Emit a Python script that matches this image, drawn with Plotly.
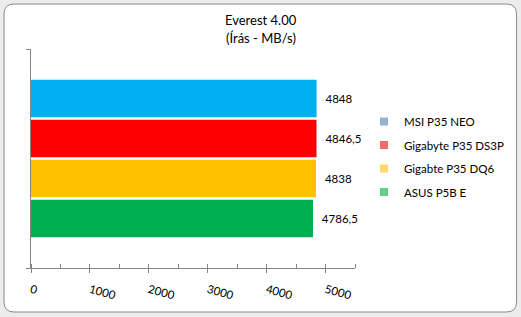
import plotly.graph_objects as go

category = ["Everest 4.00"]
series_names = ["MSI P35 NEO", "Gigabyte P35 DS3P", "Gigabte P35 DQ6", "ASUS P5B E"]
series_values = [4848, 4846.5, 4838, 4786.5]
bar_colors = ["#00b0f0", "#ff0000", "#ffc000", "#00b050"]
legend_colors = ["#95b3d7", "#f46b6b", "#ffd966", "#5fcf8a"]
x_ticks = [0, 1000, 2000, 3000, 4000, 5000]
title_lines = ["Everest 4.00", "(Írás - MB/s)"]

W, H = 521, 317
L, R, T, B = 31, 355, 49, 268

def fmt(v):
    s = ("%g" % v)
    return s.replace(".", ",")

fig = go.Figure()
for name, val, col in zip(series_names, series_values, bar_colors):
    fig.add_trace(go.Bar(
        y=category, x=[val], orientation="h", name=name,
        marker=dict(color=col, line=dict(width=0)),
        text=[fmt(val)], texttemplate="  %{text}", textposition="outside",
        textfont=dict(family="Lato", size=11.5, color="#000000"),
        cliponaxis=False, showlegend=False, hoverinfo="skip",
    ))
for i, (name, col) in enumerate(zip(series_names, legend_colors)):
    fig.add_trace(go.Scatter(
        x=[None], y=[None], mode="markers", name=name,
        marker=dict(symbol="square", size=8, color=col),
        legendgroup="g%d" % i, showlegend=True,
    ))

def px_x(p):
    return (p - L) / (R - L)

def px_y(p):
    return (B - p) / (B - T)

# rounded white chart-area rectangle
x0, x1, y0, y1, r = 4, 516.5, 4, 312, 10
path = (
    f"M {px_x(x0 + r)} {px_y(y0)} L {px_x(x1 - r)} {px_y(y0)} "
    f"Q {px_x(x1)} {px_y(y0)} {px_x(x1)} {px_y(y0 + r)} "
    f"L {px_x(x1)} {px_y(y1 - r)} Q {px_x(x1)} {px_y(y1)} {px_x(x1 - r)} {px_y(y1)} "
    f"L {px_x(x0 + r)} {px_y(y1)} Q {px_x(x0)} {px_y(y1)} {px_x(x0)} {px_y(y1 - r)} "
    f"L {px_x(x0)} {px_y(y0 + r)} Q {px_x(x0)} {px_y(y0)} {px_x(x0 + r)} {px_y(y0)} Z"
)

annotations = []
for line, yc in zip(title_lines, [20, 38]):
    annotations.append(dict(text=line, x=px_x(260.5), y=px_y(yc), xref="paper",
                            yref="paper", xanchor="center", yanchor="middle",
                            showarrow=False,
                            font=dict(family="Lato", size=13, color="#000000")))

fig.update_layout(
    width=W, height=H,
    margin=dict(l=L, r=W - R, t=T, b=H - B, pad=0, autoexpand=False),
    paper_bgcolor="#ececec",
    plot_bgcolor="rgba(0,0,0,0)",
    barmode="group", bargap=0.27, bargroupgap=0.06,
    font=dict(family="Lato", size=11, color="#000000"),
    annotations=annotations,
    shapes=[dict(type="path", path=path, xref="paper", yref="paper",
                 fillcolor="#ffffff", line=dict(color="#8a8a8a", width=1),
                 layer="below")],
    legend=dict(xref="container", yref="container", x=364 / W, y=1 - 107 / H,
                xanchor="left", yanchor="top", bgcolor="rgba(0,0,0,0)",
                font=dict(family="Lato", size=11.5, color="#000000"),
                tracegroupgap=4.5, itemwidth=30),
    xaxis=dict(range=[0, 5500], tickmode="array", tickvals=x_ticks,
               ticktext=[str(t) for t in x_ticks], automargin=False,
               showgrid=False, zeroline=False, showline=True,
               linecolor="#868686", linewidth=1,
               ticks="outside", ticklen=4, tickcolor="#868686",
               tickangle=15, ticklabelstandoff=6,
               tickfont=dict(family="Lato", size=11.5, color="#000000"),
               minor=dict(dtick=500, tick0=0, ticks="inside", ticklen=4,
                          tickcolor="#868686", showgrid=False)),
    yaxis=dict(type="category", autorange="reversed", showgrid=False,
               automargin=False,
               zeroline=False, showline=True, linecolor="#868686", linewidth=1,
               ticks="outside", ticklen=4, tickcolor="#868686",
               tickson="boundaries", showticklabels=False),
)

fig.write_html("out.html")
